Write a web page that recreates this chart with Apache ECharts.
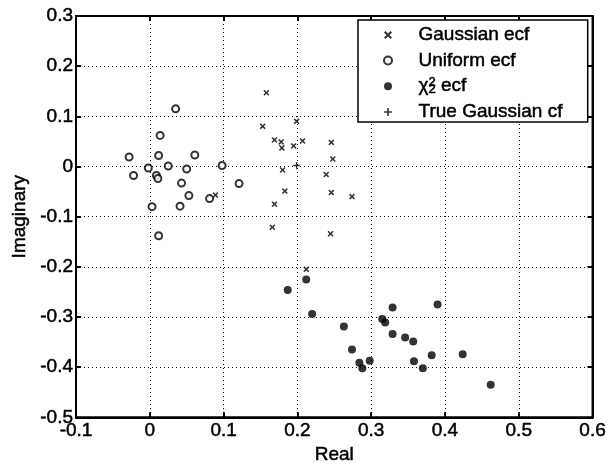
<!DOCTYPE html>
<html>
<head>
<meta charset="utf-8">
<script src="https://cdn.jsdelivr.net/npm/echarts@6/dist/echarts.min.js"></script>
<style>html,body{margin:0;padding:0;background:#fff}#c{width:609px;height:470px}</style>
</head>
<body>
<div id="c"></div>
<script>
// ---- data ----
const gaussReal = [0.158, 0.199, 0.153, 0.169, 0.178, 0.179, 0.195, 0.207, 0.246, 0.248, 0.239, 0.180, 0.246, 0.183, 0.169, 0.166, 0.245, 0.089, 0.274, 0.212];
const gaussImag = [0.147, 0.090, 0.080, 0.053, 0.049, 0.037, 0.041, 0.051, 0.048, 0.015, -0.016, -0.007, -0.052, -0.049, -0.075, -0.121, -0.134, -0.057, -0.060, -0.205];
const unifReal = [0.035, 0.014, -0.028, 0.012, 0.061, -0.002, 0.025, -0.022, 0.050, 0.098, 0.009, 0.011, 0.043, 0.121, 0.053, 0.081, 0.003, 0.041, 0.012];
const unifImag = [0.115, 0.062, 0.019, 0.022, 0.023, -0.003, 0.001, -0.018, -0.005, 0.002, -0.018, -0.024, -0.033, -0.034, -0.058, -0.064, -0.080, -0.079, -0.138];
const chiReal = [0.212, 0.187, 0.220, 0.263, 0.274, 0.284, 0.288, 0.298, 0.315, 0.319, 0.329, 0.329, 0.346, 0.357, 0.358, 0.370, 0.382, 0.390, 0.424, 0.462];
const chiImag = [-0.225, -0.246, -0.294, -0.319, -0.365, -0.391, -0.402, -0.387, -0.304, -0.311, -0.281, -0.334, -0.341, -0.349, -0.388, -0.402, -0.376, -0.275, -0.374, -0.435];
const trueReal = [0.199];
const trueImag = [0.002];
const seriesNames = ['Gaussian ecf', 'Uniform ecf', 'chi2 ecf', 'True Gaussian cf'];
const xTickMin = -0.1, xTickMax = 0.6, yTickMin = -0.5, yTickMax = 0.3, tickStep = 0.1;
// ---------------------------------------

const pairs = (xs, ys) => xs.map((x, i) => [x, ys[i]]);
const FONT = '"Liberation Sans", Arial, Helvetica, sans-serif';
const INK = {color: '#000', textBorderColor: '#000', textBorderWidth: 0.5};
const xPath = 'path://M0,1.8L1.8,0L5,3.2L8.2,0L10,1.8L6.8,5L10,8.2L8.2,10L5,6.8L1.8,10L0,8.2L3.2,5Z';
const plusPath = 'path://M4,0H6V4H10V6H6V10H4V6H0V4H4Z';
const fmt = v => { const r = Math.round(v * 10) / 10; return r === 0 ? '0' : r.toFixed(1); };

const chart = echarts.init(document.getElementById('c'), null, {renderer: 'canvas'});
const axisCommon = {
  type: 'value', interval: tickStep,
  axisLine: {show: true, onZero: false, lineStyle: {color: '#000', width: 2}},
  axisTick: {show: true, inside: true, length: 5, lineStyle: {color: '#000', width: 2}}
};
chart.setOption({
  animation: false,
  backgroundColor: '#fff',
  grid: {left: 76, right: 16, top: 16, bottom: 47, show: true, borderColor: '#000', borderWidth: 2, containLabel: false},
  xAxis: [
    Object.assign({}, axisCommon, {
      min: xTickMin, max: xTickMax, position: 'bottom',
      name: 'Real', nameLocation: 'middle', nameGap: 28,
      nameTextStyle: Object.assign({fontFamily: FONT, fontSize: 19}, INK),
      axisLabel: Object.assign({show: true, margin: 4, fontFamily: FONT, fontSize: 19, formatter: fmt, showMinLabel: true, showMaxLabel: true}, INK),
      splitLine: {show: true, lineStyle: {color: '#000', width: 1, type: [1, 3]}}
    }),
    Object.assign({}, axisCommon, {
      min: xTickMin, max: xTickMax, position: 'top',
      axisLabel: {show: false}, splitLine: {show: false}
    })
  ],
  yAxis: [
    Object.assign({}, axisCommon, {
      min: yTickMin, max: yTickMax, position: 'left',
      name: 'Imaginary', nameLocation: 'middle', nameGap: 31, nameRotate: 90,
      nameTextStyle: Object.assign({fontFamily: FONT, fontSize: 19}, INK),
      axisLabel: Object.assign({show: true, margin: 3, fontFamily: FONT, fontSize: 19, formatter: fmt, showMinLabel: true, showMaxLabel: true}, INK),
      splitLine: {show: true, lineStyle: {color: '#000', width: 1, type: [1, 3]}}
    }),
    Object.assign({}, axisCommon, {
      min: yTickMin, max: yTickMax, position: 'right',
      axisLabel: {show: false}, splitLine: {show: false}
    })
  ],
  legend: {
    orient: 'vertical', left: 358, top: 20,
    padding: [5, 25, 0, 25],
    itemWidth: 51, itemHeight: 8, itemGap: 5.5,
    backgroundColor: '#fff', borderColor: '#000', borderWidth: 1.5, borderRadius: 0,
    selectedMode: false,
    data: seriesNames,
    formatter: name => name === 'chi2 ecf' ? '{chi|χ}{sup|2}{sub|2}{t| ecf}' : name,
    textStyle: Object.assign({
      fontFamily: FONT, fontSize: 19, lineHeight: 20,
      rich: {
        chi: Object.assign({fontFamily: FONT, fontSize: 19, lineHeight: 20}, INK),
        sup: Object.assign({fontFamily: FONT, fontSize: 13, verticalAlign: 'top', lineHeight: 20, width: 0}, INK),
        sub: Object.assign({fontFamily: FONT, fontSize: 13, verticalAlign: 'bottom', lineHeight: 20}, INK),
        t: Object.assign({fontFamily: FONT, fontSize: 19, lineHeight: 20}, INK)
      }
    }, INK)
  },
  series: [
    {name: seriesNames[0], type: 'scatter', data: pairs(gaussReal, gaussImag), symbol: xPath, symbolSize: 6, symbolKeepAspect: true, itemStyle: {color: '#000'}, z: 3},
    {name: seriesNames[1], type: 'scatter', data: pairs(unifReal, unifImag), symbol: 'emptyCircle', symbolSize: 7, symbolKeepAspect: true, itemStyle: {color: '#000', borderColor: '#000', borderWidth: 1.6}, z: 3},
    {name: seriesNames[2], type: 'scatter', data: pairs(chiReal, chiImag), symbol: 'circle', symbolSize: 8, symbolKeepAspect: true, itemStyle: {color: '#000'}, z: 3},
    {name: seriesNames[3], type: 'scatter', data: pairs(trueReal, trueImag), symbol: plusPath, symbolSize: 7, symbolKeepAspect: true, itemStyle: {color: '#000'}, z: 3}
  ]
});
</script>
</body>
</html>
